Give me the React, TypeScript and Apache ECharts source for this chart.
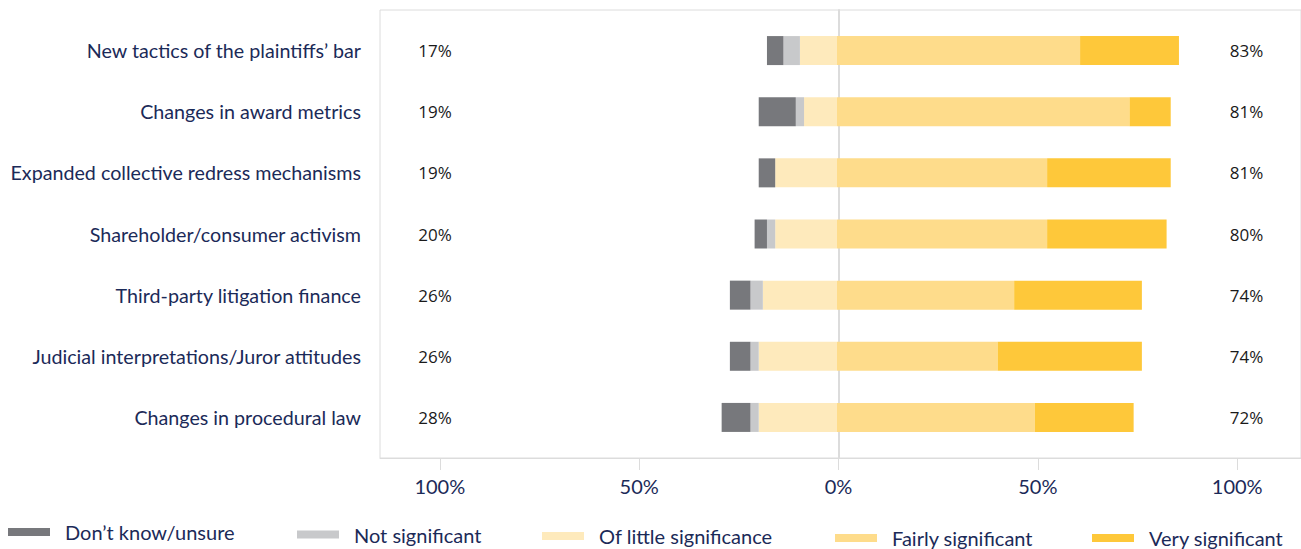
import React, { useEffect, useRef } from "react";
import * as echarts from "echarts";

// Rows, top to bottom
const categories = [
  "New tactics of the plaintiffs’ bar",
  "Changes in award metrics",
  "Expanded collective redress mechanisms",
  "Shareholder/consumer activism",
  "Third-party litigation finance",
  "Judicial interpretations/Juror attitudes",
  "Changes in procedural law",
];

// Share of respondents (%) per answer
const dontKnow = [4, 9, 4, 3, 5, 5, 7];
const notSignificant = [4, 2, 0, 2, 3, 2, 2];
const littleSignificance = [9, 8, 15, 15, 18, 19, 19];
const fairlySignificant = [59, 71, 51, 51, 43, 39, 48];
const verySignificant = [24, 10, 30, 29, 31, 35, 24];

// Row totals printed at either end
const negativeTotals = [17, 19, 19, 20, 26, 26, 28];
const positiveTotals = [83, 81, 81, 80, 74, 74, 72];

// Scale ticks (%)
const tickValues = [-100, -50, 0, 50, 100];

const NAVY = "#1b2a58";
const RULE = "#dcdcdc";
const FONT = "Lato, 'Noto Sans', sans-serif";

const COLORS = {
  dontKnow: "#77787c",
  notSignificant: "#c8c9cb",
  little: "#feeabc",
  fairly: "#fedc8b",
  very: "#fec83a",
};

const NAMES = {
  dontKnow: "Don’t know/unsure",
  notSignificant: "Not significant",
  little: "Of little significance",
  fairly: "Fairly significant",
  very: "Very significant",
};

function barSeries(name: string, values: number[], color: string, leftSide: boolean) {
  return {
    name,
    type: "bar",
    stack: "share",
    xAxisIndex: 1,
    yAxisIndex: 1,
    barWidth: 29,
    z: 2,
    itemStyle: { color },
    emphasis: { disabled: true },
    data: values.map((v) => (leftSide ? -v : v)),
  };
}

function legendItem(name: string, left: number, centerY: number) {
  return {
    data: [name],
    left,
    top: centerY - 10,
    padding: 0,
    icon: "rect",
    itemWidth: 42,
    itemHeight: 8,
    selectedMode: false,
    textStyle: {
      color: NAVY,
      fontSize: 20,
      fontFamily: FONT,
      lineHeight: 20,
      padding: [0, 0, 0, 10],
    },
  };
}

function buildOption() {
  return {
    animation: false,
    backgroundColor: "#ffffff",
    textStyle: { fontFamily: FONT },
    grid: [
      {
        left: 380,
        top: 10,
        right: -3,
        height: 448,
        show: true,
        borderColor: RULE,
        borderWidth: 1,
        backgroundColor: "transparent",
      },
      { left: 425, top: 20, right: 52, height: 428 },
    ],
    xAxis: [
      {
        gridIndex: 0,
        type: "value",
        min: -115,
        max: 116,
        axisLine: { show: true, onZero: false, lineStyle: { color: RULE, width: 1 } },
        axisTick: {
          show: true,
          customValues: tickValues,
          length: 12,
          lineStyle: { color: RULE, width: 1 },
        },
        axisLabel: {
          customValues: tickValues,
          formatter: (v: number) => `${Math.abs(v)}%`,
          margin: 18,
          color: NAVY,
          fontSize: 20,
          fontFamily: FONT,
        },
        splitLine: { show: false },
      },
      {
        gridIndex: 1,
        type: "value",
        min: -100,
        max: 100,
        show: false,
      },
    ],
    yAxis: [
      {
        // zero rule across the frame
        gridIndex: 0,
        type: "value",
        min: 0,
        max: 1,
        axisLine: { show: true, onZero: true, lineStyle: { color: RULE, width: 2 } },
        axisTick: { show: false },
        axisLabel: { show: false },
        splitLine: { show: false },
      },
      {
        gridIndex: 1,
        type: "category",
        data: categories,
        inverse: true,
        position: "left",
        axisLine: { show: false, onZero: false },
        axisTick: { show: false },
        axisLabel: { margin: 64, color: NAVY, fontSize: 19.7, fontFamily: FONT },
      },
      {
        gridIndex: 1,
        type: "category",
        data: categories,
        inverse: true,
        position: "left",
        axisLine: { show: false, onZero: false },
        axisTick: { show: false },
        axisLabel: {
          formatter: (_v: string, i: number) => `${negativeTotals[i]}%`,
          align: "center",
          margin: -10,
          color: "#1a1a1a",
          fontSize: 17,
          fontFamily: "'Open Sans', sans-serif",
        },
      },
      {
        gridIndex: 1,
        type: "category",
        data: categories,
        inverse: true,
        position: "right",
        axisLine: { show: false, onZero: false },
        axisTick: { show: false },
        axisLabel: {
          formatter: (_v: string, i: number) => `${positiveTotals[i]}%`,
          align: "center",
          margin: -2.5,
          color: "#1a1a1a",
          fontSize: 17,
          fontFamily: "'Open Sans', sans-serif",
        },
      },
    ],
    legend: [
      legendItem(NAMES.dontKnow, 8, 532),
      legendItem(NAMES.notSignificant, 297, 534.5),
      legendItem(NAMES.little, 542, 536),
      legendItem(NAMES.fairly, 835, 538),
      legendItem(NAMES.very, 1092, 538),
    ],
    series: [
      // left side stacks outward from zero
      barSeries(NAMES.little, littleSignificance, COLORS.little, true),
      barSeries(NAMES.notSignificant, notSignificant, COLORS.notSignificant, true),
      barSeries(NAMES.dontKnow, dontKnow, COLORS.dontKnow, true),
      // right side
      barSeries(NAMES.fairly, fairlySignificant, COLORS.fairly, false),
      barSeries(NAMES.very, verySignificant, COLORS.very, false),
    ],
  };
}

export default function App() {
  const ref = useRef<HTMLDivElement>(null);

  useEffect(() => {
    document.body.style.margin = "0";
    if (!ref.current) return;
    const chart = echarts.init(ref.current, null, { renderer: "svg" });
    chart.setOption(buildOption() as any);
    return () => chart.dispose();
  }, []);

  return <div ref={ref} style={{ width: 1301, height: 549 }} />;
}
